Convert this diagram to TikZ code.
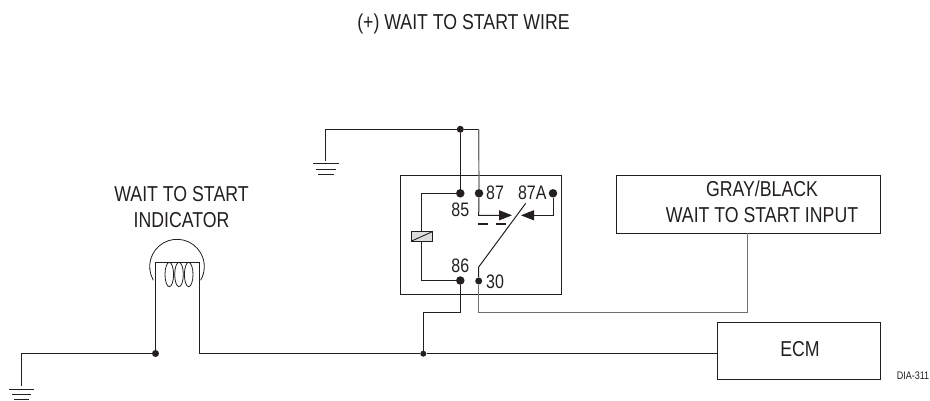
\documentclass[tikz,border=0pt]{standalone}
\usepackage{fontspec}
\setmainfont[FakeStretch=0.82]{Liberation Sans}
\usetikzlibrary{arrows.meta}
\definecolor{ink}{HTML}{231F20}
\definecolor{greywire}{HTML}{6D6E71}
\tikzset{
  wire/.style={draw=ink,line width=1pt},
  gwire/.style={draw=greywire,line width=1.2pt},
  bigdot/.style={circle,fill=ink,inner sep=0pt,minimum size=8.5pt},
  meddot/.style={circle,fill=ink,inner sep=0pt,minimum size=7pt},
  lbl/.style={text=ink,font=\fontsize{21.6}{26.2}\selectfont,align=center,inner sep=0pt},
  pin/.style={text=ink,font=\fontsize{19.5}{22}\selectfont,inner sep=0pt},
  bar/.style={draw=ink,line width=1pt},
  head/.style={-{Triangle[length=13pt,width=10pt]}},
}
\begin{document}
\begin{tikzpicture}[x=1pt,y=1pt,yscale=-1]
\useasboundingbox (0,0) rectangle (930,401);
% text
\node[lbl] (title) at (463.5,23.5) {(+) WAIT TO START WIRE};
\node[lbl] (ind) at (181.5,207) {WAIT TO START\\INDICATOR};
% boxes
\draw[wire,line width=1.3pt] (400.7,175.7) rectangle (561.3,294.3);
\node[draw=ink,line width=1.2pt,minimum width=264pt,minimum height=58pt,inner sep=0pt] (input) at (748.7,204.3) {};
\node[lbl] (inputt) at (762,202) {GRAY/BLACK\\WAIT TO START INPUT};
\node[draw=ink,line width=1.2pt,minimum width=163pt,minimum height=57pt,inner sep=0pt] (ecm) at (799.3,351.3) {};
\node[lbl] (ecmt) at (800,349) {ECM};
\node[text=ink,font=\fontsize{11}{13}\selectfont,inner sep=0pt] (dia) at (913,376) {DIA-311};
% dots
\node[meddot] (jtop) at (460.3,129.3) {};
\node[bigdot] (p85) at (460.3,193.3) {};
\node[bigdot] (p87) at (479,193.3) {};
\node[bigdot] (p87a) at (553,193.3) {};
\node[bigdot] (p86) at (460.3,280.5) {};
\node[meddot] (p30) at (478.7,281) {};
\node[meddot,minimum size=6pt] (jbot) at (423.3,353.7) {};
\node[meddot] (jlamp) at (155.5,353.5) {};
% pin labels
\node[pin] (l85) at (460.3,209.7) {85};
\node[pin] (l87) at (495,192.3) {87};
\node[pin] (l87a) at (532.3,192.3) {87A};
\node[pin] (l86) at (460.3,265.5) {86};
\node[pin] (l30) at (495,282) {30};
% coordinates
\coordinate (gA) at (325.7,129.3);
\coordinate (gAe) at (325.7,160.7);
\coordinate (t87) at (478.7,129.3);
\coordinate (c1) at (421.7,193.3);
\coordinate (c2) at (421.7,280.5);
\coordinate (a87) at (478.7,215.3);
\coordinate (a87e) at (512,215.3);
\coordinate (a87a) at (553,215.3);
\coordinate (a87ae) at (521,215.3);
\coordinate (s0) at (478.7,267);
\coordinate (s1) at (525.7,203.3);
\coordinate (b86) at (460.3,312.3);
\coordinate (b86l) at (423.3,312.3);
\coordinate (b30) at (478.7,312.3);
\coordinate (b30r) at (747.5,312.3);
\coordinate (inb) at (747.5,233.3);
\coordinate (lamptl) at (155.5,262.3);
\coordinate (lamptr) at (199,262.3);
\coordinate (lampb) at (199,353.7);
\coordinate (ecml) at (717.8,353.7);
\coordinate (gB) at (21,353.5);
\coordinate (gBe) at (21,386);
% wires
\draw[wire] (gAe) -- (gA) -- (jtop) -- (p85);
\draw[wire] (jtop) -- (t87);
\draw[gwire] (t87) -- (p87);
\draw[wire,head] (p87) -- (a87) -- (a87e);
\draw[wire,head] (p87a) -- (a87a) -- (a87ae);
\draw[wire] (p30) -- (s0) -- (s1);
\draw[wire] (p85) -- (c1) -- (c2) -- (p86);
\draw[wire] (p86) -- (b86) -- (b86l) -- (jbot);
\draw[gwire] (p30) -- (b30) -- (b30r) -- (inb);
\draw[wire] (gBe) -- (gB) -- (jlamp) -- (lamptl) -- (lamptr) -- (lampb) -- (jbot) -- (ecml);
% dashes
\draw[wire,line width=1.5pt] (478,224) -- (488.3,224) (495.7,224) -- (506,224);
% coil symbol
\draw[draw=ink,line width=1pt,fill=ink!15] (411,231.7) rectangle (432.3,241.3);
\draw[draw=ink,line width=.9pt] (411,241.3) -- (432.3,231.7);
% lamp
\draw[draw=ink,line width=.8pt] (177,266.6)++(150:27.3) arc[start angle=150,end angle=390,radius=27.3];
\draw[draw=ink,line width=.8pt] (169.3,274.5) ellipse[x radius=4.3,y radius=12.2]
  (179,274.5) ellipse[x radius=4.3,y radius=12.2]
  (188.7,274.5) ellipse[x radius=4.3,y radius=12.2];
% grounds
\draw[bar] (313,164) -- (338.7,164) (315.7,169.5) -- (336,169.5) (317.7,175) -- (334,175);
\draw[bar] (9,389) -- (34,389) (12,394.3) -- (31,394.3) (14,399.3) -- (29,399.3);
\end{tikzpicture}
\end{document}
